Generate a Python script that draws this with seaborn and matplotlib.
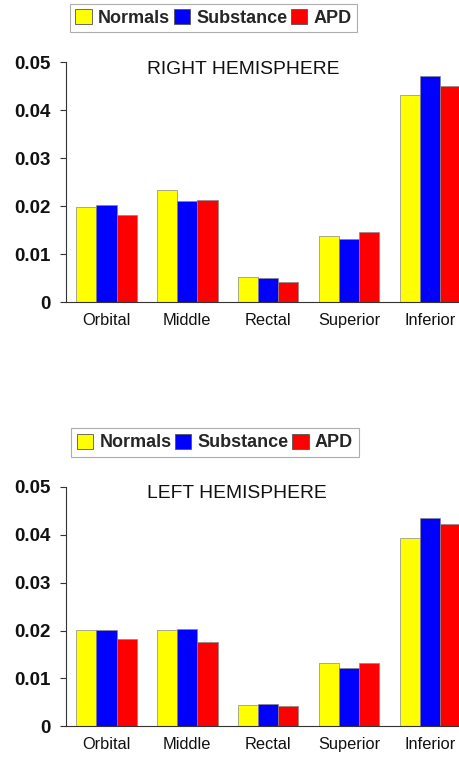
import matplotlib
matplotlib.use("Agg")
import matplotlib.pyplot as plt
from matplotlib.patches import Patch
import seaborn as sns
import pandas as pd

regions = ["Orbital", "Middle", "Rectal", "Superior", "Inferior"]
groups = ["Normals", "Substance", "APD"]
colors = ["#FFFF00", "#0000FF", "#FF0000"]

right_normals = [0.0199, 0.0233, 0.0052, 0.0139, 0.0431]
right_substance = [0.0203, 0.0212, 0.0051, 0.0131, 0.0472]
right_apd = [0.0182, 0.0214, 0.0042, 0.0147, 0.0451]

left_normals = [0.0202, 0.0201, 0.0045, 0.0132, 0.0393]
left_substance = [0.0202, 0.0203, 0.0047, 0.0121, 0.0435]
left_apd = [0.0182, 0.0176, 0.0043, 0.0132, 0.0423]

yticks = [0, 0.01, 0.02, 0.03, 0.04, 0.05]
ytick_labels = ["0", "0.01", "0.02", "0.03", "0.04", "0.05"]


def make_df(n, s, a):
    rows = []
    for g, vals in zip(groups, [n, s, a]):
        for r, v in zip(regions, vals):
            rows.append({"region": r, "group": g, "value": v})
    return pd.DataFrame(rows)


sns.set_theme(style="white")
plt.rcParams["font.family"] = ["Liberation Sans", "DejaVu Sans"]

W, H = 459, 758
fig = plt.figure(figsize=(W / 100, H / 100), dpi=100)


def draw(rect, df, title, legend_rect):
    ax = fig.add_axes(rect)
    sns.barplot(data=df, x="region", y="value", hue="group", order=regions,
                hue_order=groups, palette=colors, width=0.75, ax=ax,
                edgecolor="#888888", linewidth=0.5, legend=False, saturation=1)
    ax.set_xlim(-0.5, 4.36)
    ax.set_ylim(0, 0.05)
    ax.set_yticks(yticks)
    ax.set_yticklabels(ytick_labels, fontsize=13.5, fontweight="bold",
                       color="#111111")
    ax.tick_params(axis="x", length=0, labelsize=11.8, pad=8)
    ax.tick_params(axis="y", left=True, length=4.5, width=0.8, pad=6.5,
                   color="#333333")
    for lab in ax.get_xticklabels():
        lab.set_color("#111111")
    ax.set_xlabel("")
    ax.set_ylabel("")
    for sp in ["top", "right"]:
        ax.spines[sp].set_visible(False)
    for sp in ["left", "bottom"]:
        ax.spines[sp].set_color("#333333")
        ax.spines[sp].set_linewidth(0.8)
    fig.text(147 / W, rect[1] + rect[3] - 7 / H, title, fontsize=13.9,
             ha="left", va="center", color="#111111")
    handles = [Patch(facecolor=c, edgecolor="#555555", linewidth=0.6)
               for c in colors]
    leg = fig.legend(handles, groups, loc="center",
                     bbox_to_anchor=legend_rect, ncol=3,
                     prop={"weight": "bold", "size": 13},
                     handlelength=0.9, handleheight=0.9, handletextpad=0.35,
                     columnspacing=0.2, borderpad=0.3, frameon=True,
                     fancybox=False, borderaxespad=0)
    leg.get_frame().set_edgecolor("#999999")
    leg.get_frame().set_linewidth(0.8)
    return ax


df_r = make_df(right_normals, right_substance, right_apd)
df_l = make_df(left_normals, left_substance, left_apd)

draw([66 / W, 1 - 302.3 / H, 1 - 66 / W, 240 / H], df_r, "RIGHT HEMISPHERE",
     (213.5 / W, 1 - 18 / H))
draw([66 / W, 1 - 726.3 / H, 1 - 66 / W, 239.3 / H], df_l, "LEFT HEMISPHERE",
     (215 / W, 1 - 442.5 / H))

fig.savefig("out.png", dpi=100)
